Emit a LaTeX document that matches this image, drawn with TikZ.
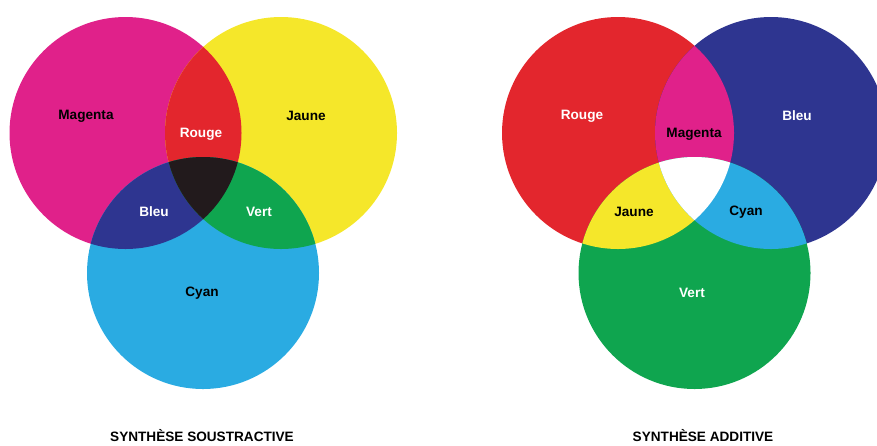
\documentclass[tikz,border=0pt]{standalone}
\usepackage{fontspec}
\setmainfont{Liberation Sans}
\definecolor{magenta}{RGB}{224,33,138}
\definecolor{jaune}{RGB}{245,231,42}
\definecolor{cyan}{RGB}{42,171,226}
\definecolor{rouge}{RGB}{227,38,45}
\definecolor{bleu}{RGB}{46,53,144}
\definecolor{vert}{RGB}{15,165,79}
\definecolor{noir}{RGB}{34,26,28}
\tikzset{lbl/.style={font=\fontsize{13.6}{16}\selectfont\bfseries},
	titre/.style={font=\fontsize{13.6}{16}\selectfont\bfseries,anchor=base}}
\newcommand{\rayon}{116}

\begin{document}
\begin{tikzpicture}[x=1pt,y=-1pt]
		\useasboundingbox (0,0) rectangle (877,445);
		\clip (0,0) rectangle (877,445);
		% synthese soustractive
		\coordinate (m) at (125.5,133);
		\coordinate (j) at (281,133);
		\coordinate (c) at (203,273);
		\fill[magenta] (m) circle (\rayon);
		\fill[jaune] (j) circle (\rayon);
		\fill[cyan] (c) circle (\rayon);
		\begin{scope}
			\clip (m) circle (\rayon);
			\fill[rouge] (j) circle (\rayon);
			\fill[bleu] (c) circle (\rayon);
		\end{scope}
		\begin{scope}
			\clip (j) circle (\rayon);
			\fill[vert] (c) circle (\rayon);
		\end{scope}
		\begin{scope}
			\clip (m) circle (\rayon);
			\clip (j) circle (\rayon);
			\fill[noir] (c) circle (\rayon);
		\end{scope}
		\node[lbl,black] (sMagenta) at (86,116) {Magenta};
		\node[lbl,black] (sJaune) at (306,116) {Jaune};
		\node[lbl,white] (sRouge) at (201,134) {Rouge};
		\node[lbl,white] (sBleu) at (154,212) {Bleu};
		\node[lbl,white] (sVert) at (259,212) {Vert};
		\node[lbl,black] (sCyan) at (202,293) {Cyan};
		\node[titre] (sTitre) at (202,441) {SYNTHÈSE SOUSTRACTIVE};
		% synthese additive
		\coordinate (r) at (618,133);
		\coordinate (b) at (771,133);
		\coordinate (v) at (694.5,273);
		\fill[rouge] (r) circle (\rayon);
		\fill[bleu] (b) circle (\rayon);
		\fill[vert] (v) circle (\rayon);
		\begin{scope}
			\clip (r) circle (\rayon);
			\fill[magenta] (b) circle (\rayon);
			\fill[jaune] (v) circle (\rayon);
		\end{scope}
		\begin{scope}
			\clip (b) circle (\rayon);
			\fill[cyan] (v) circle (\rayon);
		\end{scope}
		\begin{scope}
			\clip (r) circle (\rayon);
			\clip (b) circle (\rayon);
			\fill[white] (v) circle (\rayon);
		\end{scope}
		\node[lbl,white] (aRouge) at (582,116) {Rouge};
		\node[lbl,white] (aBleu) at (797,116) {Bleu};
		\node[lbl,black] (aMagenta) at (694,134) {Magenta};
		\node[lbl,black] (aJaune) at (634,212) {Jaune};
		\node[lbl,black] (aCyan) at (746,212) {Cyan};
		\node[lbl,white] (aVert) at (692,293) {Vert};
		\node[titre] (aTitre) at (703,441) {SYNTHÈSE ADDITIVE};
\end{tikzpicture}
\end{document}
